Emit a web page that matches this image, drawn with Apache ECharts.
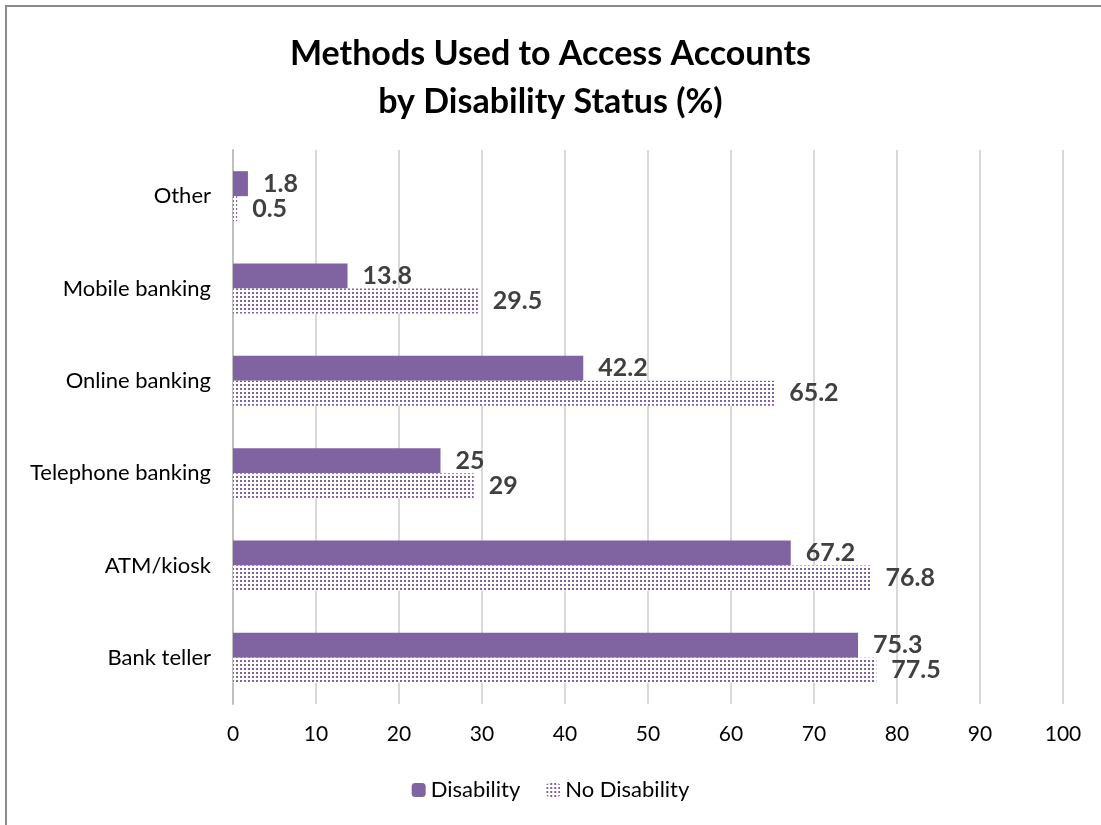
<!DOCTYPE html>
<html lang="en">
<head>
  <meta charset="UTF-8">
  <title>Methods Used to Access Accounts</title>
  <script src="https://cdn.jsdelivr.net/npm/echarts@6/dist/echarts.min.js"></script>
  <style>
    html, body { margin: 0; padding: 0; background: #fff; }
  </style>
</head>
<body>
  <div id="chart" style="width: 1101px; height: 825px;"></div>

  <script>
    // categories, top to bottom
    var methods = ['Other', 'Mobile banking', 'Online banking', 'Telephone banking', 'ATM/kiosk', 'Bank teller'];
    var disability = [1.8, 13.8, 42.2, 25, 67.2, 75.3];
    var noDisability = [0.5, 29.5, 65.2, 29, 76.8, 77.5];
    var xTicks = [0, 10, 20, 30, 40, 50, 60, 70, 80, 90, 100];

    var purple = '#8064A2';
    var font = 'Lato, "Open Sans", sans-serif';

    // dotted fill for the "No Disability" bars
    var dots = document.createElement('canvas');
    dots.width = 4;
    dots.height = 4;
    var ctx = dots.getContext('2d');
    ctx.fillStyle = '#ffffff';
    ctx.fillRect(0, 0, 4, 4);
    ctx.fillStyle = purple;
    ctx.fillRect(0, 0, 2, 2);

    var myChart = echarts.init(document.getElementById('chart'));

    var labelStyle = {
      show: true,
      position: 'right',
      distance: 15,
      color: '#404040',
      fontWeight: 'bold',
      fontSize: 25,
      fontFamily: font
    };

    myChart.setOption({
      animation: false,
      backgroundColor: '#fff',
      title: {
        text: 'Methods Used to Access Accounts\nby Disability Status (%)',
        left: 'center',
        top: 25,
        textStyle: {
          fontSize: 34,
          fontWeight: 'bold',
          fontFamily: font,
          color: '#000',
          lineHeight: 48
        }
      },
      graphic: [{
        type: 'rect',
        shape: { x: 6, y: 6, width: 1200, height: 1000 },
        style: { fill: 'none', stroke: '#8c8c8c', lineWidth: 2 },
        silent: true
      }],
      legend: {
        bottom: 19,
        left: 'center',
        itemWidth: 14,
        itemHeight: 14,
        itemGap: 26,
        textStyle: { fontSize: 22, fontFamily: font, color: '#000' },
        data: ['Disability', 'No Disability']
      },
      grid: {
        left: 233,
        right: 38,
        top: 150,
        bottom: 121,
        containLabel: false
      },
      xAxis: {
        type: 'value',
        min: xTicks[0],
        max: xTicks[xTicks.length - 1],
        interval: 10,
        axisLine: { show: false },
        axisTick: { show: false },
        axisLabel: { fontSize: 21, fontFamily: font, color: '#000', margin: 20 },
        splitLine: { lineStyle: { color: '#d9d9d9', width: 2 } }
      },
      yAxis: {
        type: 'category',
        inverse: true,
        data: methods,
        axisLine: { lineStyle: { color: '#bfbfbf', width: 2 } },
        axisTick: { show: false },
        axisLabel: { fontSize: 22, fontFamily: font, color: '#000', margin: 22 }
      },
      series: [
        {
          name: 'Disability',
          type: 'bar',
          data: disability,
          barWidth: 25,
          barGap: '0%',
          itemStyle: { color: purple },
          label: labelStyle
        },
        {
          name: 'No Disability',
          type: 'bar',
          data: noDisability,
          barWidth: 25,
          barGap: '0%',
          itemStyle: { color: { image: dots, repeat: 'repeat' } },
          label: labelStyle
        }
      ]
    });
  </script>
</body>
</html>
